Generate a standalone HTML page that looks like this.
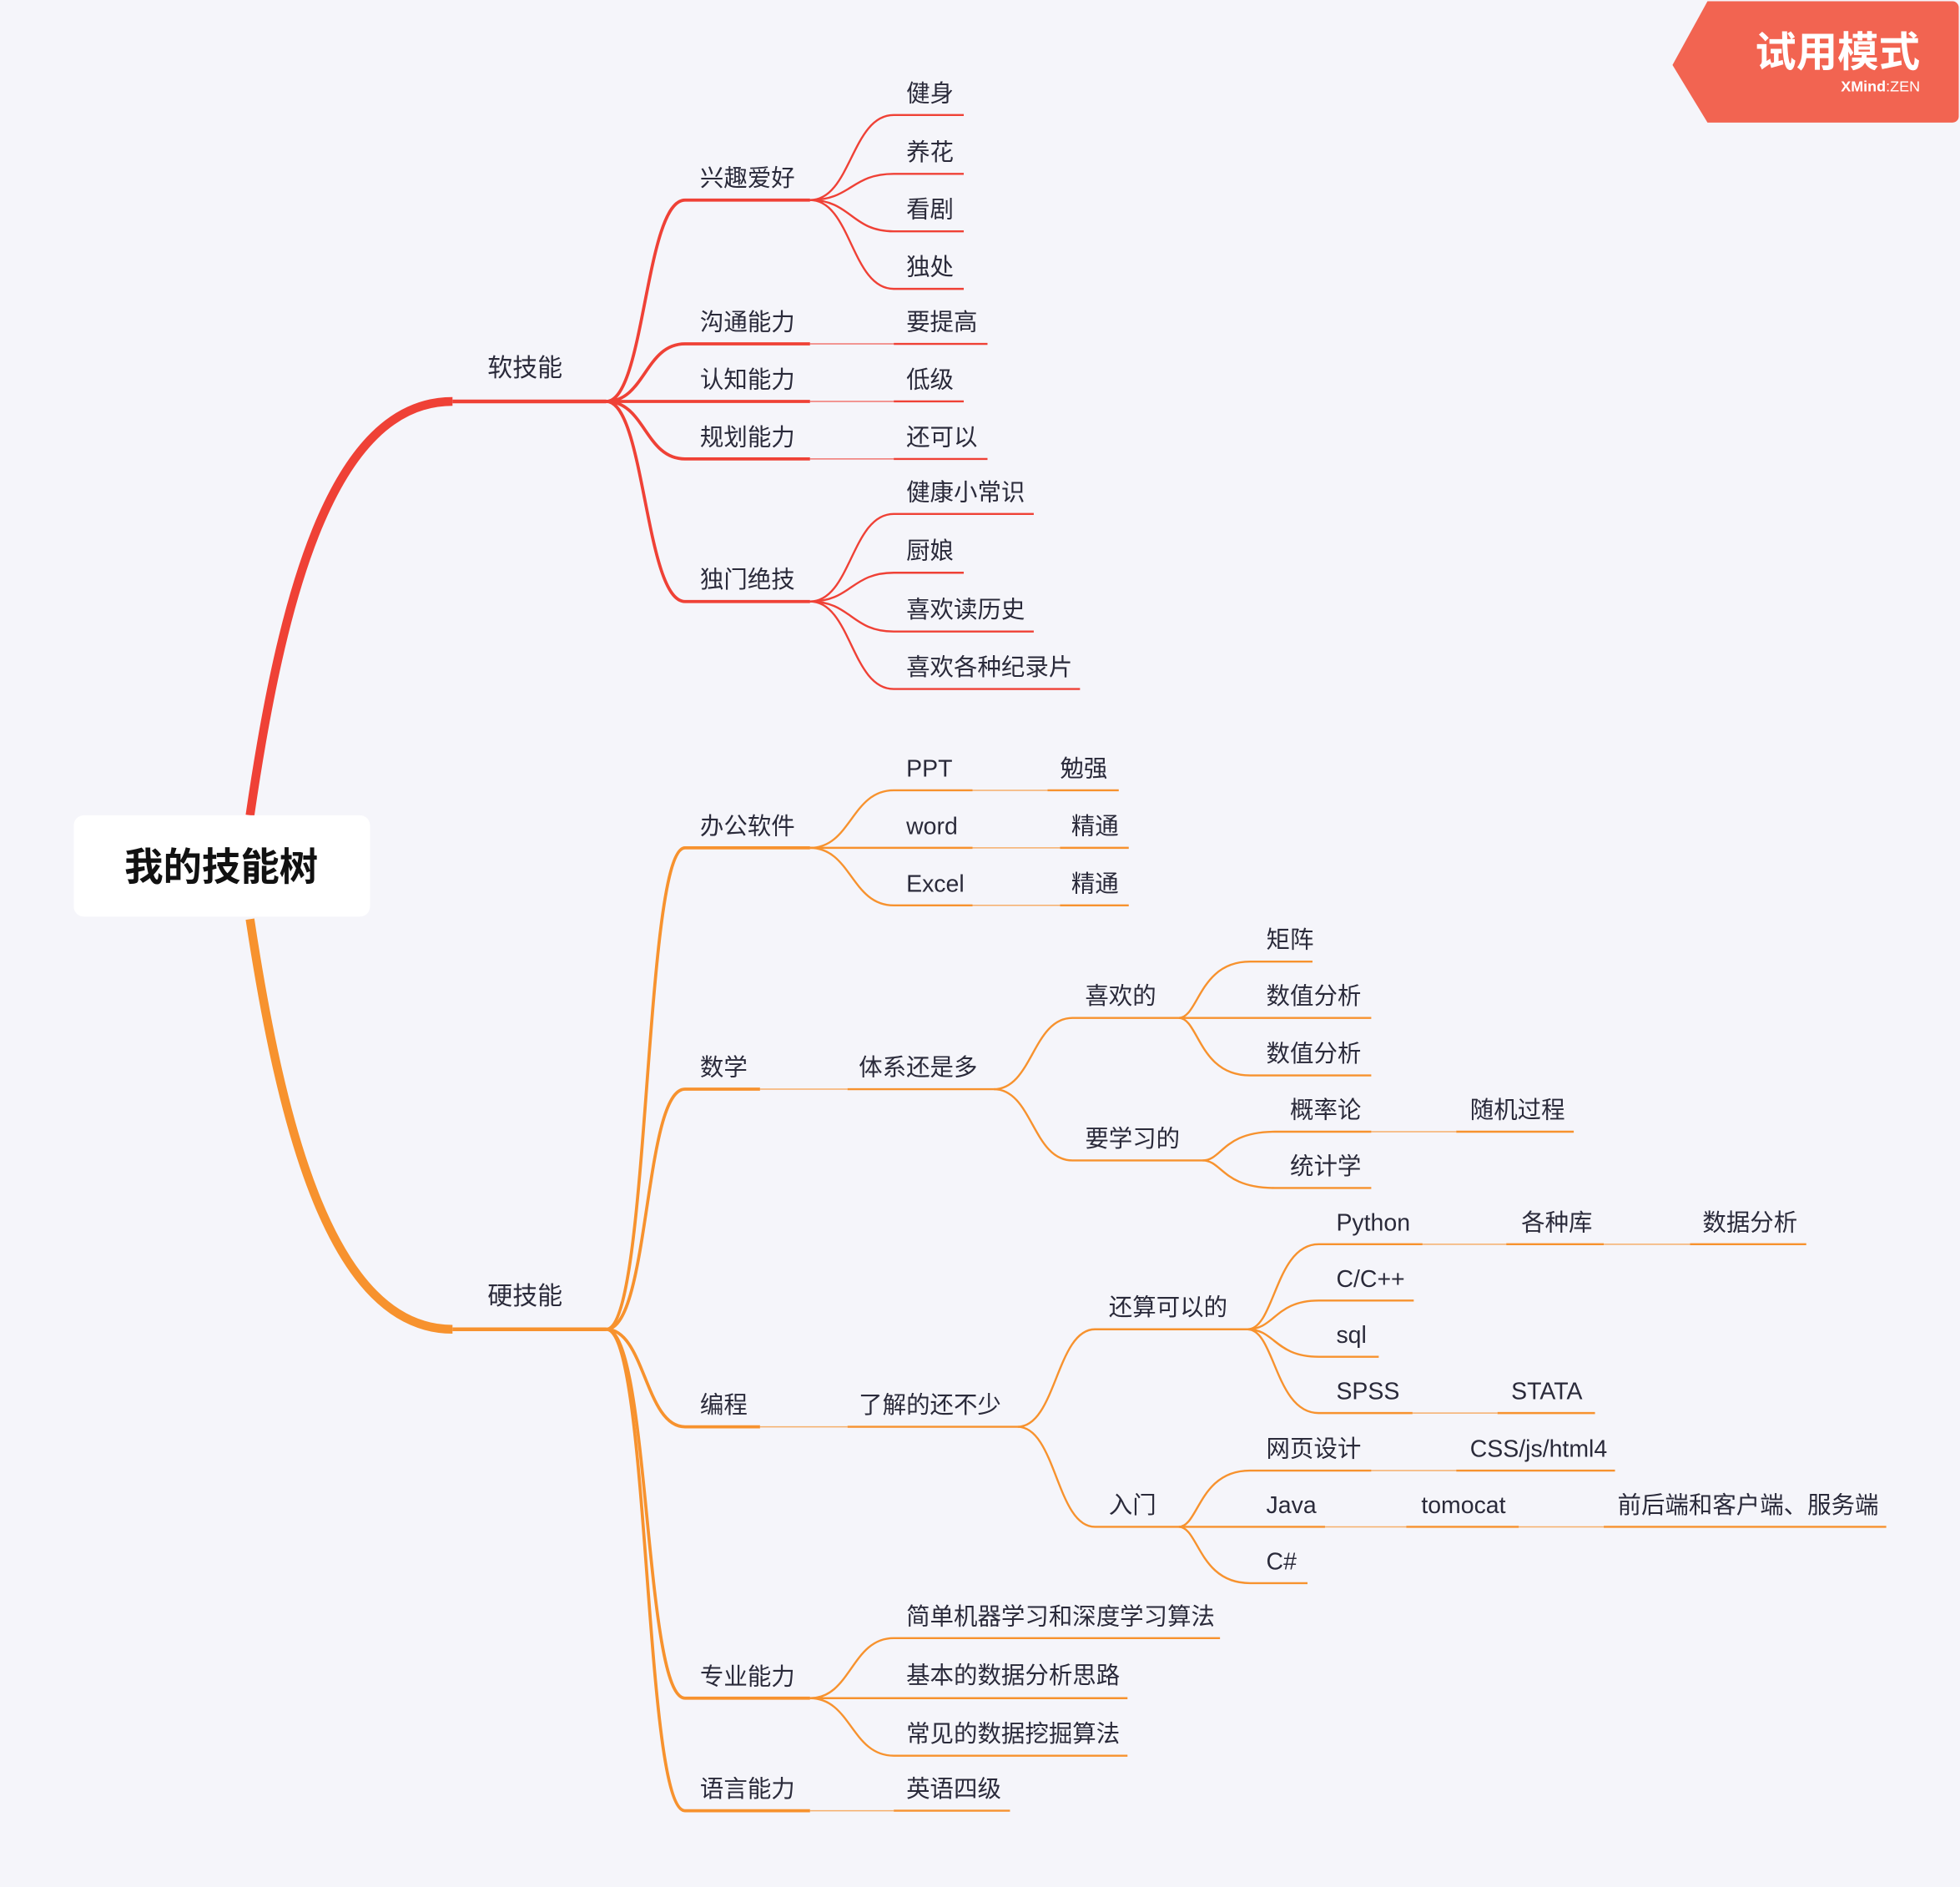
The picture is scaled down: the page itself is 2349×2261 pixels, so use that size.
<!DOCTYPE html>
<html><head><meta charset="utf-8">
<style>
html,body{margin:0;padding:0;background:#F5F5FA;}
svg{display:block;}
text{font-family:"Liberation Sans","Noto Sans CJK SC",sans-serif;fill:#2a2a3a;font-size:19px;}
.r{stroke:#EF4136;fill:none;}
.o{stroke:#F7922E;fill:none;}
.t{stroke-width:1;opacity:.7}
.l1{stroke-width:3}
.l2{stroke-width:2.5}
.l3{stroke-width:1.6}
</style></head><body>
<svg width="2349" height="2261" viewBox="0 0 1568 1509" preserveAspectRatio="none" xmlns="http://www.w3.org/2000/svg">
<rect x="0" y="0" width="1568" height="1509" fill="#F5F5FA"/>
<!-- watermark -->
<path d="M1366 1 H1562 a5 5 0 0 1 5 5 V93 a5 5 0 0 1 -5 5 H1366 L1338 52 Z" fill="#F26451"/>
<text x="1536" y="53" text-anchor="end" style="font-size:33px;fill:#fff;font-weight:bold">试用模式</text>
<text x="1536" y="73" text-anchor="end" style="font-size:12px;fill:#fff;font-weight:bold">XMind<tspan style="font-weight:normal">:ZEN</tspan></text>

<!-- root curves -->
<path d="M200 652 C225 480 265 321 362 321" class="r" stroke-width="7"/>
<path d="M200 735 C225 900 265 1063 362 1063" class="o" stroke-width="7"/>
<rect x="59" y="652" width="237" height="81" rx="8" fill="#fff"/>
<text x="177" y="704" text-anchor="middle" style="font-size:31px;font-weight:bold;fill:#111">我的技能树</text>

<!-- ========== soft ========== -->
<path class="r l1" d="M362 321 H485"/>
<text x="390" y="301" style="font-size:20px">软技能</text>
<path class="r l2" d="M485 321 C516 321 516 160 548 160 H648"/>
<path class="r l2" d="M485 321 C516 321 516 275 548 275 H648"/>
<path class="r l2" d="M485 321 H648"/>
<path class="r l2" d="M485 321 C516 321 516 367 548 367 H648"/>
<path class="r l2" d="M485 321 C516 321 516 481 548 481 H648"/>
<text x="560" y="149">兴趣爱好</text>
<text x="560" y="264">沟通能力</text>
<text x="560" y="310">认知能力</text>
<text x="560" y="356">规划能力</text>
<text x="560" y="470">独门绝技</text>

<path class="r l3" d="M648 160 C681 160 681 92 715 92 H771"/>
<path class="r l3" d="M648 160 C681 160 681 139 715 139 H771"/>
<path class="r l3" d="M648 160 C681 160 681 185 715 185 H771"/>
<path class="r l3" d="M648 160 C681 160 681 231 715 231 H771"/>
<text x="725" y="81">健身</text>
<text x="725" y="128">养花</text>
<text x="725" y="174">看剧</text>
<text x="725" y="220">独处</text>

<path class="r t" d="M648 275 H715"/><path class="r l3" d="M715 275 H790"/>
<path class="r t" d="M648 321 H715"/><path class="r l3" d="M715 321 H771"/>
<path class="r t" d="M648 367 H715"/><path class="r l3" d="M715 367 H790"/>
<text x="725" y="264">要提高</text>
<text x="725" y="310">低级</text>
<text x="725" y="356">还可以</text>

<path class="r l3" d="M648 481 C681 481 681 411 715 411 H827"/>
<path class="r l3" d="M648 481 C681 481 681 458 715 458 H771"/>
<path class="r l3" d="M648 481 C681 481 681 505 715 505 H827"/>
<path class="r l3" d="M648 481 C681 481 681 551 715 551 H864"/>
<text x="725" y="400">健康小常识</text>
<text x="725" y="447">厨娘</text>
<text x="725" y="494">喜欢读历史</text>
<text x="725" y="540">喜欢各种纪录片</text>

<!-- ========== hard ========== -->
<path class="o l1" d="M362 1063 H485"/>
<text x="390" y="1043" style="font-size:20px">硬技能</text>
<path class="o l2" d="M485 1063 C520 1063 515 678 548 678 H648"/>
<path class="o l2" d="M485 1063 C520 1063 515 871 548 871 H608"/>
<path class="o l2" d="M485 1063 C516 1063 516 1141 548 1141 H608"/>
<path class="o l2" d="M485 1063 C520 1063 515 1358 548 1358 H648"/>
<path class="o l2" d="M485 1063 C520 1063 515 1448 548 1448 H648"/>
<text x="560" y="667">办公软件</text>
<text x="560" y="860">数学</text>
<text x="560" y="1130">编程</text>
<text x="560" y="1347">专业能力</text>
<text x="560" y="1437">语言能力</text>

<!-- office -->
<path class="o l3" d="M648 678 C681 678 681 632 715 632 H778"/><path class="o t" d="M778 632 H838"/><path class="o l3" d="M838 632 H895"/>
<path class="o l3" d="M648 678 H778"/><path class="o t" d="M778 678 H848"/><path class="o l3" d="M848 678 H903"/>
<path class="o l3" d="M648 678 C681 678 681 724 715 724 H778"/><path class="o t" d="M778 724 H848"/><path class="o l3" d="M848 724 H903"/>
<text x="725" y="621">PPT</text><text x="848" y="621">勉强</text>
<text x="725" y="667">word</text><text x="857" y="667">精通</text>
<text x="725" y="713">Excel</text><text x="857" y="713">精通</text>

<!-- math -->
<path class="o t" d="M608 871 H678"/><path class="o l3" d="M678 871 H795"/>
<text x="687" y="860">体系还是多</text>
<path class="o l3" d="M795 871 C826 871 826 814 858 814 H943"/>
<path class="o l3" d="M795 871 C826 871 826 928 858 928 H962"/>
<text x="868" y="803">喜欢的</text>
<text x="868" y="917">要学习的</text>
<path class="o l3" d="M943 814 C959 814 959 769 1000 769 H1050"/>
<path class="o l3" d="M943 814 H1097"/>
<path class="o l3" d="M943 814 C959 814 959 860 1000 860 H1097"/>
<text x="1013" y="758">矩阵</text>
<text x="1013" y="803">数值分析</text>
<text x="1013" y="849">数值分析</text>
<path class="o l3" d="M962 928 C978 928 978 905 1020 905 H1097"/><path class="o t" d="M1097 905 H1165"/><path class="o l3" d="M1165 905 H1259"/>
<path class="o l3" d="M962 928 C978 928 978 950 1020 950 H1097"/>
<text x="1032" y="894">概率论</text><text x="1176" y="894">随机过程</text>
<text x="1032" y="939">统计学</text>

<!-- programming -->
<path class="o t" d="M608 1141 H678"/><path class="o l3" d="M678 1141 H814"/>
<text x="687" y="1130">了解的还不少</text>
<path class="o l3" d="M814 1141 C845 1141 845 1063 876 1063 H998"/>
<path class="o l3" d="M814 1141 C845 1141 845 1221 876 1221 H943"/>
<text x="887" y="1052">还算可以的</text>
<text x="887" y="1210">入门</text>
<path class="o l3" d="M998 1063 C1020 1063 1020 995 1055 995 H1138"/><path class="o t" d="M1138 995 H1205"/><path class="o l3" d="M1205 995 H1283"/><path class="o t" d="M1283 995 H1352"/><path class="o l3" d="M1352 995 H1445"/>
<path class="o l3" d="M998 1063 C1020 1063 1020 1040 1055 1040 H1131"/>
<path class="o l3" d="M998 1063 C1020 1063 1020 1085 1055 1085 H1103"/>
<path class="o l3" d="M998 1063 C1020 1063 1020 1130 1055 1130 H1130"/><path class="o t" d="M1130 1130 H1198"/><path class="o l3" d="M1198 1130 H1276"/>
<text x="1069" y="984">Python</text><text x="1217" y="984">各种库</text><text x="1362" y="984">数据分析</text>
<text x="1069" y="1029">C/C++</text>
<text x="1069" y="1074">sql</text>
<text x="1069" y="1119">SPSS</text><text x="1209" y="1119">STATA</text>
<path class="o l3" d="M943 1221 C959 1221 959 1176 1000 1176 H1097"/><path class="o t" d="M1097 1176 H1165"/><path class="o l3" d="M1165 1176 H1292"/>
<path class="o l3" d="M943 1221 H1060"/><path class="o t" d="M1060 1221 H1125"/><path class="o l3" d="M1125 1221 H1215"/><path class="o t" d="M1215 1221 H1283"/><path class="o l3" d="M1283 1221 H1509"/>
<path class="o l3" d="M943 1221 C959 1221 959 1266 1000 1266 H1046"/>
<text x="1013" y="1165">网页设计</text><text x="1176" y="1165">CSS/js/html4</text>
<text x="1013" y="1210">Java</text><text x="1137" y="1210">tomocat</text><text x="1294" y="1210">前后端和客户端、服务端</text>
<text x="1013" y="1255">C#</text>

<!-- professional -->
<path class="o l3" d="M648 1358 C681 1358 681 1310 715 1310 H976"/>
<path class="o l3" d="M648 1358 H902"/>
<path class="o l3" d="M648 1358 C681 1358 681 1404 715 1404 H902"/>
<text x="725" y="1299">简单机器学习和深度学习算法</text>
<text x="725" y="1346">基本的数据分析思路</text>
<text x="725" y="1393">常见的数据挖掘算法</text>

<path class="o t" d="M648 1448 H715"/><path class="o l3" d="M715 1448 H808"/>
<text x="725" y="1437">英语四级</text>
</svg>
</body></html>
